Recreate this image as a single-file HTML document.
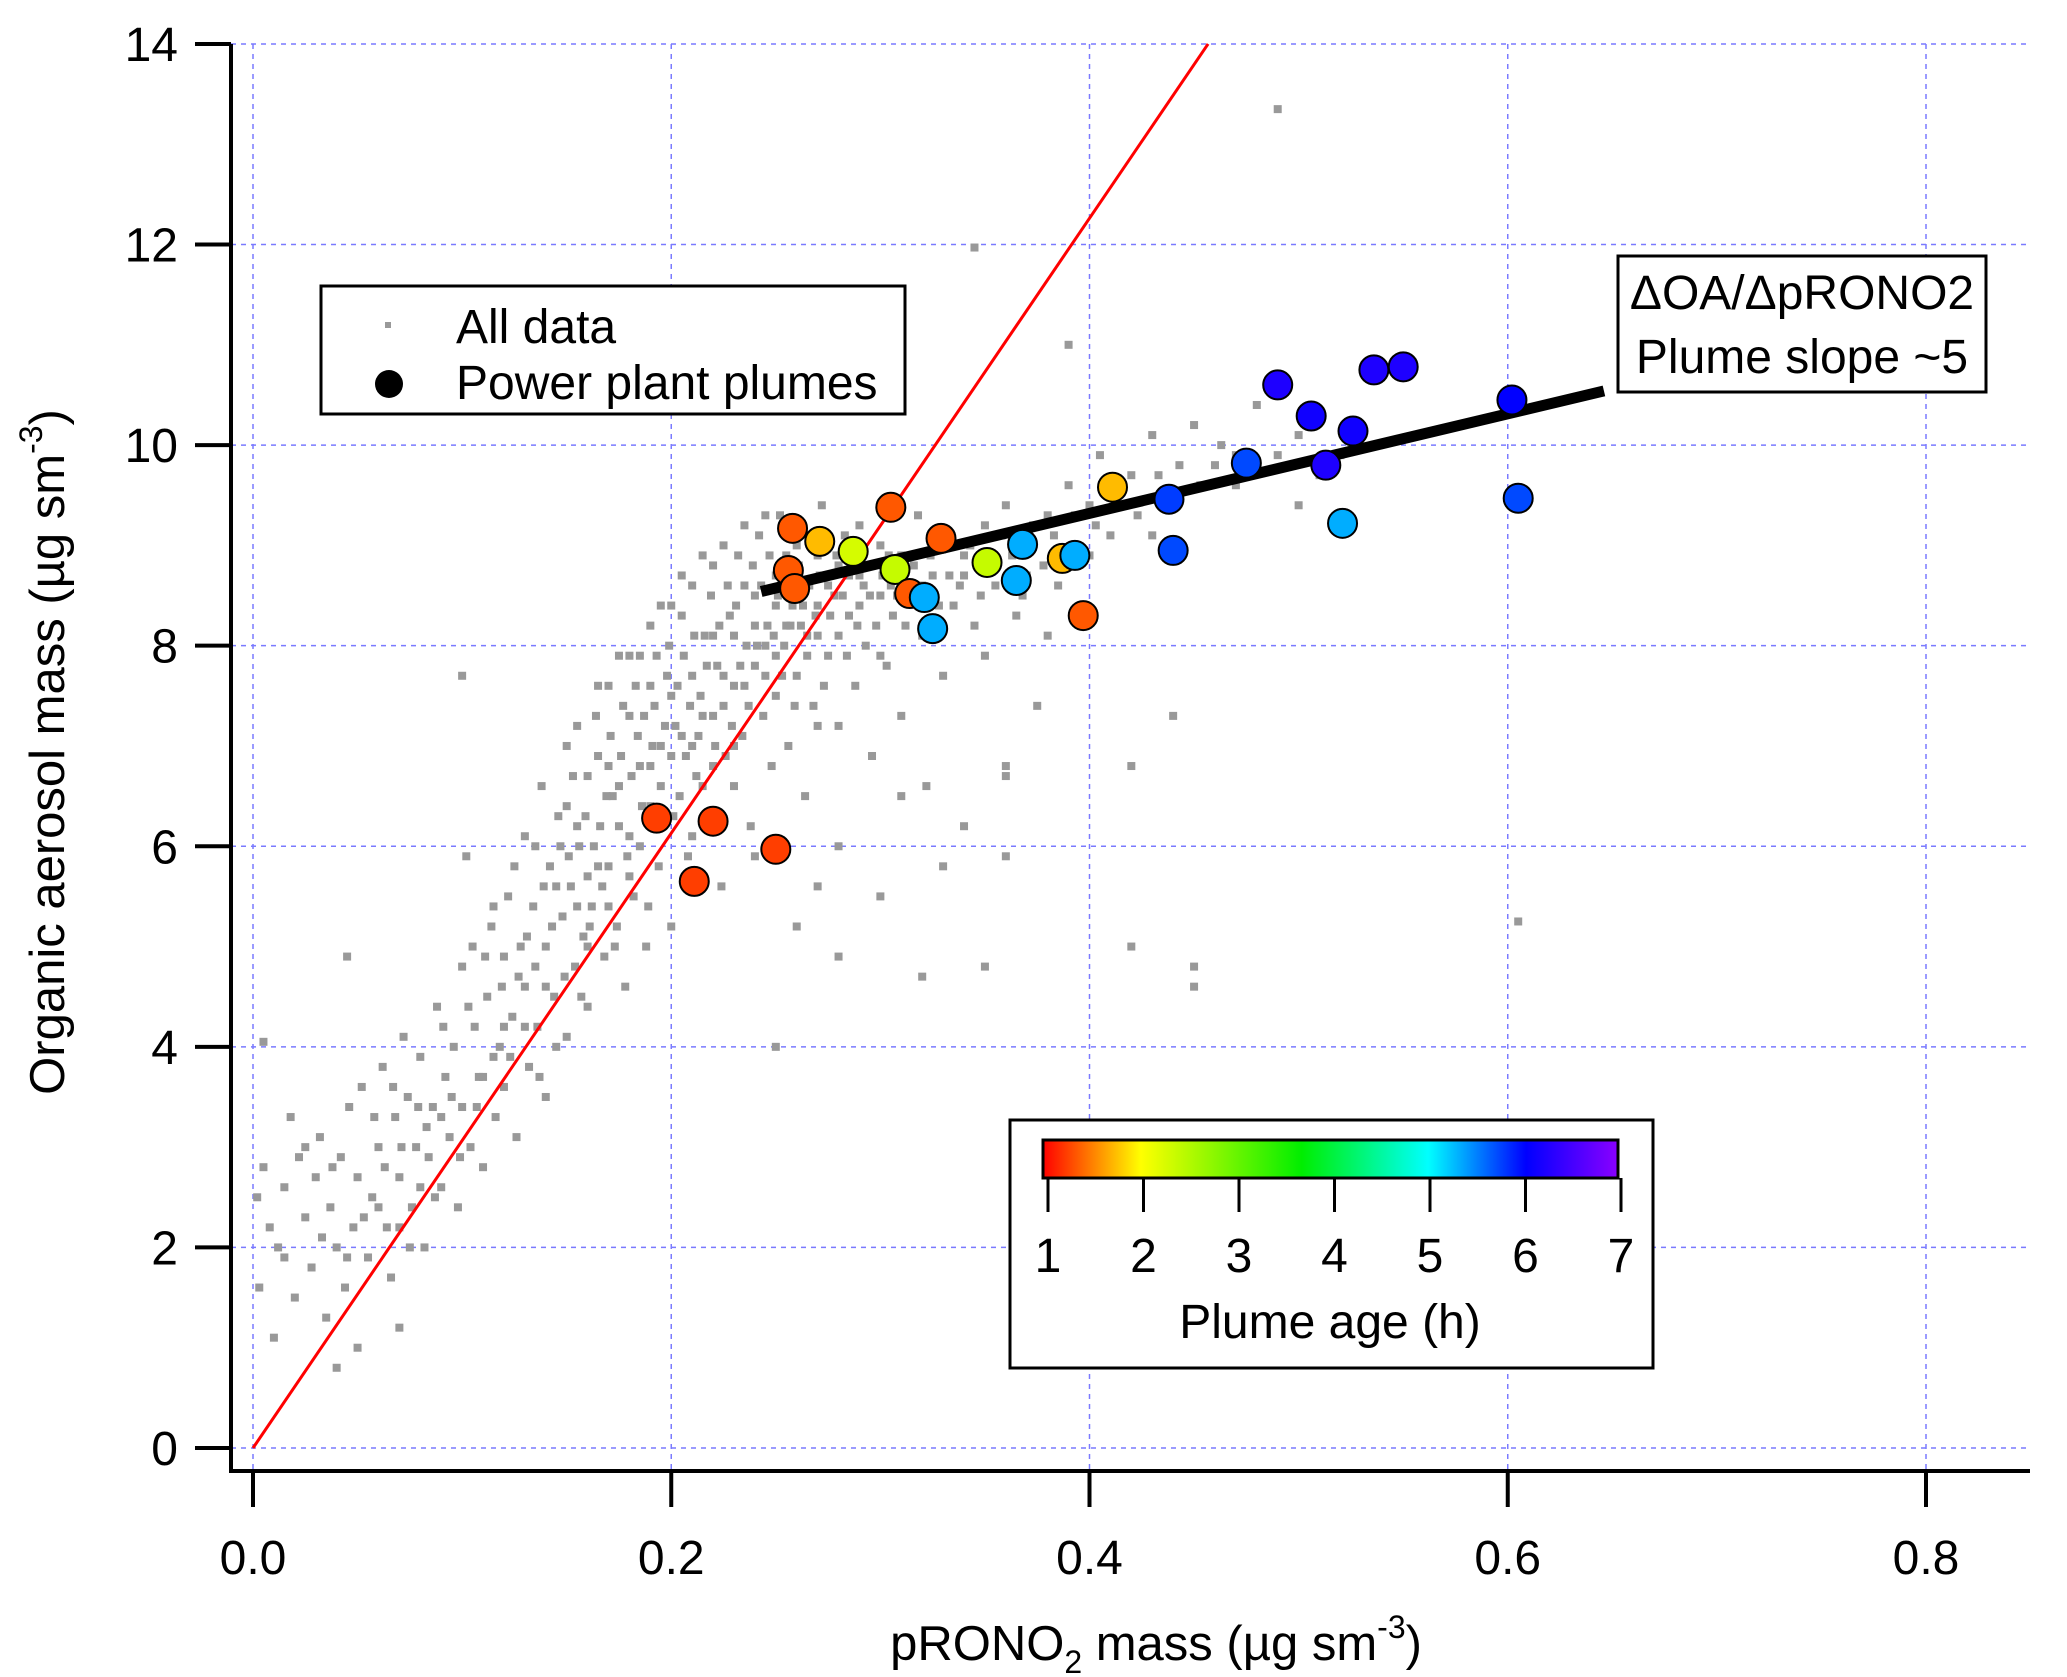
<!DOCTYPE html>
<html><head><meta charset="utf-8"><style>
html,body{margin:0;padding:0;background:#fff}
svg{display:block;font-family:"Liberation Sans",sans-serif}
</style></head><body>
<svg id="chart" width="2067" height="1677" viewBox="0 0 2067 1677" xmlns="http://www.w3.org/2000/svg">
<defs>
<linearGradient id="rb" x1="0" x2="1" y1="0" y2="0">
<stop offset="0" stop-color="#ff0000"/><stop offset="0.17" stop-color="#ffff00"/><stop offset="0.45" stop-color="#00ee00"/><stop offset="0.67" stop-color="#00ffff"/><stop offset="0.84" stop-color="#0000ff"/><stop offset="1" stop-color="#8a00ff"/>
</linearGradient>
</defs>
<g id="grid"></g>
<g id="gray"></g>
<g id="lines"></g>
<g id="plumes"></g>
<g id="axes"></g>
<text transform="translate(64,752) rotate(-90)" text-anchor="middle" font-size="49">Organic aerosol mass (µg sm<tspan dy="-22" font-size="32">-3</tspan><tspan dy="22">)</tspan></text>
<text x="1156" y="1660" text-anchor="middle" font-size="49">pRONO<tspan dy="13" font-size="32">2</tspan><tspan dy="-13"> mass (µg sm</tspan><tspan dy="-22" font-size="32">-3</tspan><tspan dy="22">)</tspan></text>
<g>
<rect x="321" y="286" width="584" height="128" fill="#fff" stroke="#000" stroke-width="3"/>
<rect x="385" y="322" width="6" height="6" fill="#999"/>
<text x="456" y="343" font-size="48">All data</text>
<circle cx="389" cy="384" r="14" fill="#000"/>
<text x="456" y="399" font-size="48">Power plant plumes</text>
</g>
<g>
<rect x="1618" y="256" width="368" height="136" fill="#fff" stroke="#000" stroke-width="3"/>
<text x="1802" y="309" text-anchor="middle" font-size="48">ΔOA/ΔpRONO2</text>
<text x="1802" y="373" text-anchor="middle" font-size="48">Plume slope ~5</text>
</g>
<g>
<rect x="1010" y="1120" width="643" height="248" fill="#fff" stroke="#000" stroke-width="3"/>
<rect x="1043" y="1140" width="575" height="38" fill="url(#rb)" stroke="#000" stroke-width="3"/>
<g id="cbticks"></g>
<text x="1330" y="1338" text-anchor="middle" font-size="48">Plume age (h)</text>
</g>
</svg>
<script>
const xTicks=[0,0.2,0.4,0.6,0.8];
const xTickLabels=["0.0","0.2","0.4","0.6","0.8"];
const yTicks=[0,2,4,6,8,10,12,14];
const ageTicks=[1,2,3,4,5,6,7];
const plumeX=[0.193,0.211,0.220,0.250,0.258,0.256,0.259,0.271,0.287,0.305,0.307,0.314,0.321,0.325,0.329,0.351,0.365,0.368,0.387,0.393,0.397,0.411,0.438,0.440,0.475,0.490,0.506,0.513,0.521,0.526,0.536,0.550,0.602,0.605];
const plumeY=[6.28,5.65,6.25,5.97,9.17,8.75,8.57,9.04,8.94,9.38,8.76,8.52,8.48,8.17,9.07,8.83,8.65,9.01,8.87,8.90,8.30,9.58,9.46,8.95,9.82,10.60,10.29,9.80,9.22,10.14,10.75,10.78,10.45,9.47];
const plumeAge=[1.25,1.25,1.25,1.25,1.35,1.35,1.35,1.75,2.3,1.35,2.4,1.35,5.35,5.35,1.35,2.4,5.35,5.35,1.75,5.35,1.35,1.75,5.8,5.75,5.75,6.25,6.15,6.25,5.35,6.15,6.25,6.25,6.05,5.75];
const redLine=[[0,0],[0.4567,14]];
const fitLine=[[0.243,8.54],[0.646,10.54]];
const grayData="0.002,2.5;0.003,1.6;0.005,2.8;0.008,2.2;0.01,1.1;0.012,2.0;0.015,2.6;0.018,3.3;0.02,1.5;0.022,2.9;0.025,2.3;0.028,1.8;0.03,2.7;0.032,3.1;0.035,1.3;0.037,2.4;0.04,2.0;0.042,2.9;0.044,1.6;0.046,3.4;0.048,2.2;0.05,1.0;0.05,2.7;0.052,3.6;0.055,1.9;0.057,2.5;0.06,3.0;0.062,3.8;0.064,2.2;0.066,1.7;0.068,3.3;0.07,2.7;0.072,4.1;0.074,3.5;0.076,2.4;0.078,3.0;0.08,3.9;0.082,2.0;0.084,2.9;0.086,3.4;0.088,4.4;0.09,2.6;0.092,3.7;0.094,3.1;0.096,4.0;0.098,2.4;0.1,3.4;0.1,4.8;0.102,5.9;0.104,3.0;0.106,4.2;0.108,3.7;0.11,2.8;0.112,4.5;0.114,5.2;0.116,3.3;0.118,4.0;0.12,4.9;0.12,3.6;0.122,5.5;0.124,4.3;0.126,3.1;0.128,5.0;0.13,4.6;0.13,6.1;0.132,3.8;0.134,5.4;0.136,4.2;0.138,6.6;0.14,5.0;0.14,3.5;0.142,5.8;0.144,4.5;0.146,6.3;0.148,5.3;0.15,4.1;0.15,7.0;0.152,5.6;0.154,4.8;0.156,6.0;0.158,5.1;0.16,6.7;0.16,4.4;0.162,5.4;0.164,7.3;0.166,6.2;0.168,4.9;0.17,5.8;0.17,7.6;0.172,6.5;0.174,5.2;0.176,6.9;0.178,4.6;0.18,6.1;0.18,7.9;0.182,5.5;0.184,7.1;0.186,6.4;0.188,5.0;0.19,6.8;0.19,8.2;0.192,7.4;0.194,5.8;0.196,6.2;0.198,7.7;0.2,6.9;0.2,5.2;0.2,8.4;0.202,7.2;0.204,6.5;0.206,7.9;0.208,5.9;0.21,7.0;0.21,8.6;0.212,6.7;0.214,7.5;0.216,8.1;0.218,6.3;0.22,7.3;0.22,8.8;0.222,7.8;0.224,5.6;0.226,6.9;0.228,8.3;0.23,7.6;0.23,6.6;0.232,8.9;0.234,7.1;0.236,8.0;0.238,6.2;0.24,7.8;0.24,8.5;0.242,9.1;0.244,7.3;0.246,8.2;0.248,6.8;0.25,8.7;0.25,7.5;0.252,9.3;0.254,8.0;0.256,7.0;0.258,8.4;0.26,7.7;0.26,9.0;0.262,8.2;0.264,6.5;0.266,8.6;0.268,7.4;0.27,8.9;0.27,8.1;0.272,9.4;0.275,7.9;0.278,8.5;0.28,7.2;0.28,8.8;0.283,9.1;0.285,8.3;0.288,7.6;0.29,8.7;0.29,9.2;0.293,8.0;0.296,6.9;0.3,8.5;0.3,9.0;0.303,7.8;0.306,8.3;0.31,8.9;0.31,7.3;0.314,8.6;0.318,9.3;0.32,8.1;0.322,6.6;0.325,8.7;0.33,9.0;0.33,7.7;0.335,8.4;0.34,8.9;0.34,6.2;0.345,8.2;0.35,9.2;0.35,7.9;0.355,8.6;0.36,9.4;0.36,6.8;0.365,8.3;0.37,9.0;0.375,7.4;0.38,9.3;0.385,8.6;0.39,9.6;0.395,8.9;0.4,9.4;0.405,9.9;0.41,9.1;0.42,9.7;0.43,10.1;0.44,9.5;0.45,10.2;0.46,9.8;0.47,9.6;0.48,10.4;0.49,9.9;0.5,9.4;0.51,9.7;0.52,9.9;0.345,11.97;0.49,13.35;0.39,11.0;0.44,7.3;0.42,6.8;0.42,5.0;0.45,4.6;0.45,4.8;0.605,5.25;0.35,4.8;0.32,4.7;0.25,4.0;0.1,7.7;0.045,4.9;0.005,4.05;0.04,0.8;0.07,1.2;0.36,6.7;0.38,8.1;0.3,5.5;0.28,6.0;0.26,5.2;0.28,4.9;0.31,6.5;0.33,5.8;0.36,5.9;0.27,5.6;0.24,5.9;0.15,6.4;0.16,5.7;0.17,6.8;0.18,7.3;0.19,7.6;0.21,7.7;0.22,8.1;0.23,8.1;0.24,8.2;0.25,8.4;0.26,8.6;0.27,8.4;0.2,7.5;0.21,6.1;0.19,6.4;0.18,5.7;0.17,5.4;0.16,5.0;0.14,4.6;0.13,4.2;0.12,4.2;0.11,3.7;0.09,3.3;0.08,2.6;0.07,2.2;0.06,2.4;0.23,7.0;0.22,6.8;0.25,7.9;0.29,8.4;0.32,8.4;0.34,8.7;0.37,8.7;0.4,8.9;0.43,9.1;0.47,9.9;0.5,10.1;0.28,8.1;0.27,7.2;0.3,7.9;0.015,1.9;0.025,3.0;0.033,2.1;0.038,2.8;0.045,1.9;0.053,2.3;0.058,3.3;0.063,2.8;0.067,3.6;0.071,3.0;0.075,2.0;0.079,3.4;0.083,3.2;0.087,2.5;0.091,4.2;0.095,3.5;0.099,2.9;0.103,4.4;0.107,3.4;0.111,4.9;0.115,3.9;0.119,4.6;0.123,3.9;0.127,4.7;0.131,5.1;0.135,4.8;0.137,3.7;0.139,5.6;0.143,5.2;0.145,4.0;0.147,6.0;0.149,4.7;0.151,5.9;0.153,6.7;0.155,5.4;0.157,4.5;0.159,6.3;0.161,5.2;0.163,6.0;0.165,6.9;0.167,5.6;0.169,6.5;0.171,7.1;0.173,5.0;0.175,6.2;0.177,7.4;0.179,5.9;0.181,6.7;0.183,7.6;0.185,6.0;0.187,7.3;0.189,5.4;0.191,7.0;0.193,7.9;0.195,6.6;0.197,7.2;0.199,8.0;0.201,6.3;0.203,7.6;0.205,8.3;0.207,6.9;0.209,7.4;0.211,8.1;0.213,7.1;0.215,6.6;0.217,7.8;0.219,8.5;0.221,7.0;0.223,8.2;0.225,7.4;0.227,8.6;0.229,7.2;0.231,8.4;0.233,7.8;0.235,8.6;0.237,7.4;0.239,8.8;0.241,8.0;0.243,8.6;0.245,7.7;0.247,8.9;0.249,8.1;0.251,8.5;0.253,7.7;0.255,8.9;0.257,8.2;0.259,7.4;0.261,8.8;0.263,8.4;0.265,7.9;0.267,9.1;0.269,8.3;0.271,8.7;0.273,7.6;0.276,8.3;0.279,8.9;0.282,8.5;0.284,7.9;0.287,8.9;0.289,8.2;0.292,8.6;0.295,8.8;0.298,8.2;0.301,8.7;0.304,8.9;0.308,8.5;0.312,8.2;0.316,8.8;0.32,8.6;0.324,8.9;0.328,8.4;0.333,8.7;0.338,8.6;0.343,9.0;0.348,8.5;0.353,8.8;0.358,9.1;0.363,8.9;0.368,8.5;0.373,9.2;0.378,8.8;0.383,9.1;0.393,9.3;0.403,9.2;0.413,9.5;0.423,9.3;0.433,9.7;0.443,9.8;0.453,9.6;0.463,10.0;0.145,5.6;0.155,6.2;0.165,5.8;0.175,6.6;0.185,6.8;0.195,7.0;0.205,7.1;0.215,7.3;0.225,7.7;0.235,7.6;0.245,8.0;0.255,8.2;0.265,8.1;0.275,8.6;0.285,8.7;0.295,8.5;0.305,8.6;0.185,7.9;0.195,8.4;0.205,8.7;0.215,8.9;0.225,9.0;0.235,9.2;0.245,9.3;0.125,5.8;0.115,5.4;0.105,5.0;0.135,6.0;0.155,7.2;0.165,7.6;0.175,7.9";
const SX=v=>253+v*2091.25, SY=v=>1448-v*100.29;
const NS="http://www.w3.org/2000/svg";
function mk(tag,attrs,parent){const e=document.createElementNS(NS,tag);for(const k in attrs)e.setAttribute(k,attrs[k]);parent.appendChild(e);return e;}
function ageColor(a){const t=(a-1)/6;const st=[[0,255,0,0],[0.17,255,255,0],[0.45,0,238,0],[0.67,0,255,255],[0.84,0,0,255],[1,138,0,255]];for(let i=0;i<st.length-1;i++){if(t<=st[i+1][0]){const f=(t-st[i][0])/(st[i+1][0]-st[i][0]);const c=[1,2,3].map(j=>Math.round(st[i][j]+f*(st[i+1][j]-st[i][j])));return `rgb(${c})`;}}return "rgb(138,0,255)";}
const grid=document.getElementById('grid');
xTicks.forEach(v=>{const l=mk('line',{x1:SX(v),x2:SX(v),y1:44,y2:1471,stroke:'#7a7aff','stroke-width':1.5,'stroke-dasharray':'5,5'},grid);

});
yTicks.forEach(v=>{const l=mk('line',{x1:231,x2:2030,y1:SY(v),y2:SY(v),stroke:'#7a7aff','stroke-width':1.5,'stroke-dasharray':'5,5'},grid);

});
const gray=document.getElementById('gray');
grayData.split(';').forEach(p=>{const [x,y]=p.split(',').map(Number);const r=mk('rect',{x:SX(x)-4,y:SY(y)-4,width:8,height:8,fill:'#999'},gray);

});
const lines=document.getElementById('lines');
const rl=mk('line',{x1:SX(redLine[0][0]),y1:SY(redLine[0][1]),x2:SX(redLine[1][0]),y2:SY(redLine[1][1]),stroke:'#ff0000','stroke-width':3},lines);


const fl=mk('line',{x1:SX(fitLine[0][0]),y1:SY(fitLine[0][1]),x2:SX(fitLine[1][0]),y2:SY(fitLine[1][1]),stroke:'#000','stroke-width':11},lines);


const pl=document.getElementById('plumes');
plumeX.forEach((x,i)=>{const c=mk('circle',{cx:SX(x),cy:SY(plumeY[i]),r:14.5,fill:ageColor(plumeAge[i]),stroke:'#000','stroke-width':2},pl);

});
const ax=document.getElementById('axes');
mk('polyline',{points:'231,44 231,1471 2030,1471',fill:'none',stroke:'#000','stroke-width':4},ax);
xTicks.forEach((v,i)=>{mk('line',{x1:SX(v),x2:SX(v),y1:1471,y2:1507,stroke:'#000','stroke-width':4},ax);
const t=mk('text',{x:SX(v),y:1574,'text-anchor':'middle','font-size':48},ax);t.textContent=xTickLabels[i];

});
yTicks.forEach(v=>{mk('line',{x1:195,x2:231,y1:SY(v),y2:SY(v),stroke:'#000','stroke-width':4},ax);
const t=mk('text',{x:178,y:SY(v)+17,'text-anchor':'end','font-size':48},ax);t.textContent=v;

});
const cb=document.getElementById('cbticks');
const CX=a=>1048+(a-1)*95.5;
ageTicks.forEach(a=>{mk('line',{x1:CX(a),x2:CX(a),y1:1178,y2:1212,stroke:'#000','stroke-width':3},cb);
const t=mk('text',{x:CX(a),y:1272,'text-anchor':'middle','font-size':48},cb);t.textContent=a;

});
</script>
</body></html>
